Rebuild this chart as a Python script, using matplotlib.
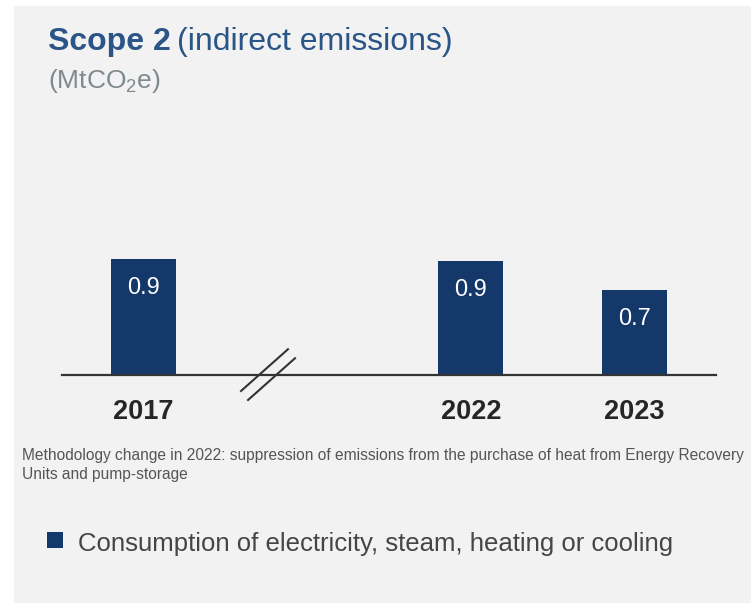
import matplotlib.pyplot as plt
from matplotlib.patches import Rectangle

plt.rcParams['font.family'] = ['Liberation Sans', 'DejaVu Sans']
plt.rcParams['mathtext.fontset'] = 'custom'
plt.rcParams['mathtext.rm'] = 'Liberation Sans'

# 数据
years = ['2017', '2022', '2023']
emissions = [0.90, 0.885, 0.66]
series_name = 'Consumption of electricity, steam, heating or cooling'
note = ('Methodology change in 2022: suppression of emissions from the purchase of heat from Energy Recovery\n'
        'Units and pump-storage')

bar_color = '#143869'
title_color = '#2a5586'
W, H = 751, 603

fig = plt.figure(figsize=(W / 100, H / 100), dpi=100)
fig.patch.set_facecolor('white')

# 灰色背景面板
fig.add_artist(Rectangle((14 / W, 0), 1 - 14 / W, 1 - 6 / H, transform=fig.transFigure,
                         facecolor='#f2f2f2', edgecolor='none', zorder=0))

# 柱状图区域: 2017 与 2022 之间留出断轴间隔
x_pos = [0, 2, 3]
ax = fig.add_axes([62 / W, 228 / H, 654 / W, 226 / H])
ax.patch.set_alpha(0)
ax.bar(x_pos, emissions, width=0.4, color=bar_color, zorder=2)
ax.set_xlim(-0.5, 3.5)
ax.set_ylim(0, 1.755)
for s in ['top', 'left', 'right']:
    ax.spines[s].set_visible(False)
ax.spines['bottom'].set_color('#333333')
ax.spines['bottom'].set_linewidth(1.6)
ax.set_yticks([])
ax.set_xticks(x_pos)
ax.set_xticklabels(years, fontsize=19.5, fontweight='bold', color='#262626')
ax.tick_params(axis='x', length=0, pad=17)

for x, v in zip(x_pos, emissions):
    ax.annotate(f'{v:.1f}', (x, v), xytext=(0, -21), textcoords='offset points',
                ha='center', va='center', fontsize=17, color='white')

# 断轴标记
for dx, dy in [(0, 0), (0.043, -0.07)]:
    ax.plot([0.595 + dx, 0.882 + dx], [-0.124 + dy, 0.2 + dy], color='#333333',
            lw=1.5, clip_on=False, zorder=3)

# 标题
t = fig.text(48 / W, 1 - 42 / H, 'Scope 2', fontsize=23, fontweight='bold',
             color=title_color, va='center')
fig.canvas.draw()
bb = t.get_window_extent()
fig.text(bb.x1 / W + 6 / W, 1 - 42 / H, '(indirect emissions)', fontsize=23,
         color=title_color, va='center')
fig.text(48 / W, 1 - 81 / H, '(MtCO$_2$e)', fontsize=19, color='#7f8a8f', va='center')

# 注释
fig.text(22 / W, 1 - 448 / H, note, fontsize=11.2, color='#555555', va='top', linespacing=1.32)

# 图例
fig.add_artist(Rectangle((47 / W, 1 - 548 / H), 16 / W, 16 / H, transform=fig.transFigure,
                         facecolor=bar_color, edgecolor='none'))
fig.text(78 / W, 1 - 544 / H, series_name, fontsize=18.5, color='#454545', va='center')

fig.savefig('out.png', dpi=100)
